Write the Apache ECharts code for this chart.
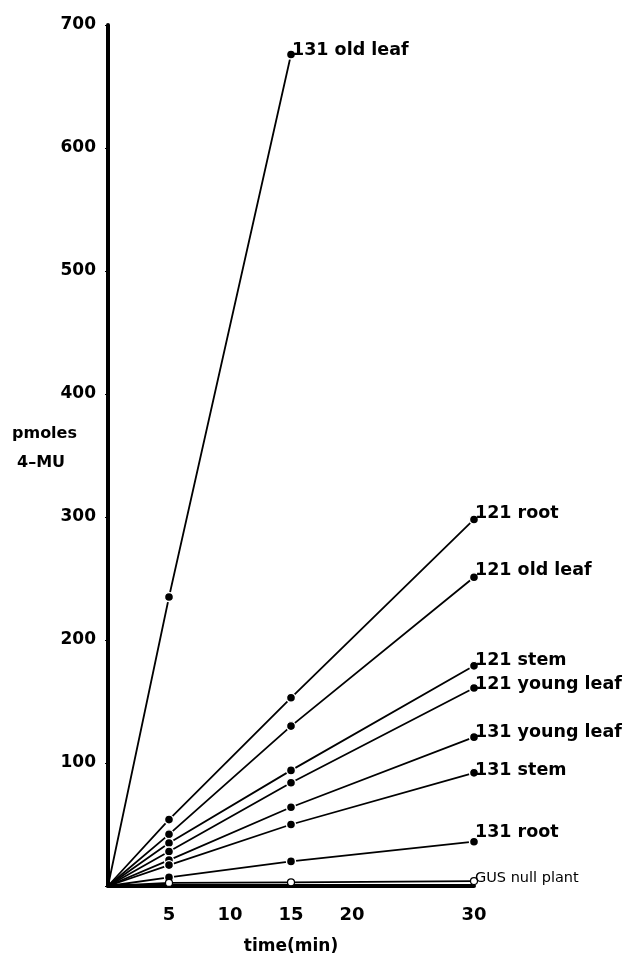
<!DOCTYPE html>
<html>
<head>
<meta charset="utf-8">
<script src="https://cdn.jsdelivr.net/npm/echarts@6/dist/echarts.min.js"></script>
<style>html,body{margin:0;padding:0;background:#fff;}#chart{width:627px;height:960px;}</style>
</head>
<body>
<div id="chart"></div>
<script>
// time points (min)
const times = [0, 5, 15, 30];
const xTickLabels = [5, 10, 15, 20, 30];
const yTickLabels = [100, 200, 300, 400, 500, 600, 700];

// pmoles 4-MU
const s131OldLeaf   = [0, 235, 676];
const s121Root      = [0, 54, 153, 298];
const s121OldLeaf   = [0, 42, 130, 251];
const s121Stem      = [0, 35, 94, 179];
const s121YoungLeaf = [0, 28, 84, 161];
const s131YoungLeaf = [0, 21, 64, 121];
const s131Stem      = [0, 17, 50, 92];
const s131Root      = [0, 7, 20, 36];
const sGusNull      = [0, 2.5, 3, 4];

const seriesNames = ['131 old leaf', '121 root', '121 old leaf', '121 stem', '121 young leaf',
  '131 young leaf', '131 stem', '131 root', 'GUS null plant'];
const seriesValues = [s131OldLeaf, s121Root, s121OldLeaf, s121Stem, s121YoungLeaf,
  s131YoungLeaf, s131Stem, s131Root, sGusNull];
const labelDy = [-4, -6, -7, -5, -4, -5, -2, -9, -3];

const FONT = 'DejaVu Sans';

const series = seriesNames.map((name, i) => {
  const open = name === 'GUS null plant';
  return {
    name: name,
    type: 'line',
    data: seriesValues[i].map((v, j) => j === 0 ? { value: [times[j], v], symbol: 'none' } : [times[j], v]),
    symbol: 'circle',
    symbolSize: open ? 7 : 9,
    showAllSymbol: true,
    lineStyle: { color: '#000', width: 1.8 },
    itemStyle: open ? { color: '#fff', borderColor: '#000', borderWidth: 1.2 }
                    : { color: '#000', borderColor: '#fff', borderWidth: 1.4 },
    emphasis: { disabled: true },
    animation: false,
    z: open ? 3 : 2,
    endLabel: {
      show: true,
      formatter: '{a}',
      color: '#000',
      fontFamily: FONT,
      fontWeight: open ? 'normal' : 'bold',
      fontSize: open ? 14.5 : 17.5,
      distance: 1,
      offset: [0, labelDy[i]]
    }
  };
});

const chart = echarts.init(document.getElementById('chart'), null, { renderer: 'canvas' });
chart.setOption({
  backgroundColor: '#fff',
  animation: false,
  grid: { left: 108, right: 153, top: 25, bottom: 72 },
  xAxis: {
    type: 'value',
    min: 0, max: 30, interval: 5,
    offset: 3,
    name: 'time(min)',
    nameLocation: 'middle',
    nameGap: 49,
    nameTextStyle: { color: '#000', fontFamily: FONT, fontWeight: 'bold', fontSize: 17 },
    axisLine: { lineStyle: { color: '#000', width: 4 } },
    axisTick: { show: false },
    splitLine: { show: false },
    axisLabel: {
      color: '#000', fontFamily: FONT, fontWeight: 'bold', fontSize: 18, margin: 17,
      formatter: v => xTickLabels.indexOf(v) >= 0 ? String(v) : ''
    }
  },
  yAxis: {
    type: 'value',
    min: 0, max: 700, interval: 100,
    offset: 2,
    axisLine: { show: true, lineStyle: { color: '#000', width: 4 } },
    axisTick: { show: true, length: 3, lineStyle: { color: '#000', width: 1 } },
    splitLine: { show: false },
    axisLabel: {
      color: '#000', fontFamily: FONT, fontWeight: 'bold', fontSize: 17, margin: 10,
      formatter: v => yTickLabels.indexOf(v) >= 0 ? String(v) : ''
    }
  },
  graphic: [
    { type: 'text', left: 12, top: 426, style: { text: 'pmoles', fill: '#000', font: 'bold 16px "DejaVu Sans"' } },
    { type: 'text', left: 17, top: 455, style: { text: '4\u2013MU', fill: '#000', font: 'bold 16px "DejaVu Sans"' } }
  ],
  series: series
});
</script>
</body>
</html>
